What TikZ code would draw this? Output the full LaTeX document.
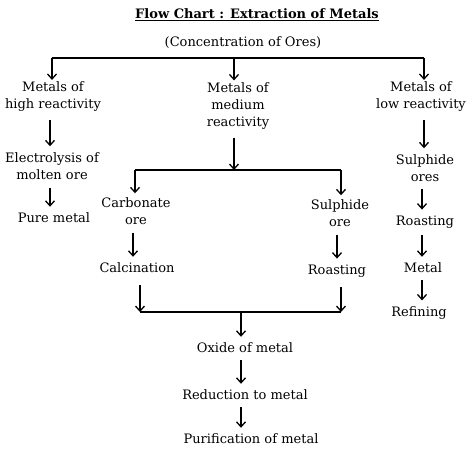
\documentclass[tikz,border=0pt]{standalone}
\usepackage{fontspec}
\setmainfont{DejaVu Serif}
\usetikzlibrary{arrows.meta}
\begin{document}
\begin{tikzpicture}[x=1pt,y=-1pt,
  txt/.style={align=center,font=\fontsize{13}{17}\selectfont,inner sep=2pt},
  bar/.style={line width=1.5pt},
  arr/.style={line width=1.4pt,-{Straight Barb[length=5pt,width=9pt,line width=1.3pt]}}]
\useasboundingbox (0,0) rectangle (473,453);
\node[txt,font=\fontsize{13}{17}\selectfont\bfseries] (title) at (257,15) {\underline{Flow Chart : Extraction of Metals}};
\node[txt] (conc) at (243,43) {(Concentration of Ores)};
\node[txt] (high) at (53,97) {Metals of\\high reactivity};
\node[txt] (med) at (238,106) {Metals of\\medium\\reactivity};
\node[txt] (low) at (421,97) {Metals of\\low reactivity};
\node[txt] (elec) at (52,166) {Electrolysis of\\molten ore};
\node[txt] (pure) at (54,218) {Pure metal};
\node[txt] (carb) at (136,211) {Carbonate\\ore};
\node[txt] (sulph) at (340,213) {Sulphide\\ore};
\node[txt] (calc) at (137,268) {Calcination};
\node[txt] (roastA) at (337,271) {Roasting};
\node[txt] (oxide) at (245,348) {Oxide of metal};
\node[txt] (red) at (245,395) {Reduction to metal};
\node[txt] (puri) at (251,439) {Purification of metal};
\node[txt] (sores) at (425,168) {Sulphide\\ores};
\node[txt] (roastB) at (425,222) {Roasting};
\node[txt] (metal) at (423,268) {Metal};
\node[txt] (refin) at (419,313) {Refining};
% top bar
\coordinate (bL) at (52,58);
\coordinate (bM) at (234,58);
\coordinate (bR) at (424,58);
\draw[bar] (bL) -- (bR);
\draw[arr] (bL) -- (bL |- high.north);
\draw[arr] (bM) -- (bM |- med.north);
\draw[arr] (bR) -- (bR |- low.north);
% left column
\draw[arr,shorten <=6pt,shorten >=4pt] (50,0 |- high.south) coordinate (hs) -- (hs |- elec.north);
\draw[arr,shorten <=6pt,shorten >=4pt] (50,0 |- elec.south) coordinate (es) -- (es |- pure.north);
% middle bar
\coordinate (mL) at (135,170);
\coordinate (mR) at (341,170);
\draw[arr,shorten <=6pt] (234,0 |- med.south) coordinate (ms) -- (ms |- mL);
\draw[bar] (mL) -- (mR);
\draw[arr,shorten >=2pt] (mL) -- (mL |- carb.north);
\draw[arr,shorten >=2pt] (mR) -- (mR |- sulph.north);
\draw[arr,shorten <=6pt,shorten >=4pt] (133,0 |- carb.south) coordinate (cs) -- (cs |- calc.north);
\draw[arr,shorten <=6pt,shorten >=4pt] (337,0 |- sulph.south) coordinate (ss) -- (ss |- roastA.north);
% lower bar
\coordinate (lL) at (140,312);
\coordinate (lM) at (241,312);
\coordinate (lR) at (341,312);
\draw[arr,shorten <=10pt] (lL |- calc.south) -- (lL);
\draw[arr,shorten <=8pt] (lR |- roastA.south) -- (lR);
\draw[bar] (lL) -- (lR);
\draw[arr,shorten >=4pt] (lM) -- (lM |- oxide.north);
\draw[arr,shorten <=5pt,shorten >=4pt] (lM |- oxide.south) -- (lM |- red.north);
\draw[arr,shorten <=5pt,shorten >=4pt] (lM |- red.south) -- (lM |- puri.north);
% right column
\draw[arr,shorten <=6pt,shorten >=4pt] (424,0 |- low.south) coordinate (ls) -- (ls |- sores.north);
\draw[arr,shorten <=5pt,shorten >=4pt] (422,0 |- sores.south) coordinate (os) -- (os |- roastB.north);
\draw[arr,shorten <=5pt,shorten >=4pt] (422,0 |- roastB.south) coordinate (rs) -- (rs |- metal.north);
\draw[arr,shorten <=5pt,shorten >=4pt] (422,0 |- metal.south) coordinate (mts) -- (mts |- refin.north);
\end{tikzpicture}
\end{document}
